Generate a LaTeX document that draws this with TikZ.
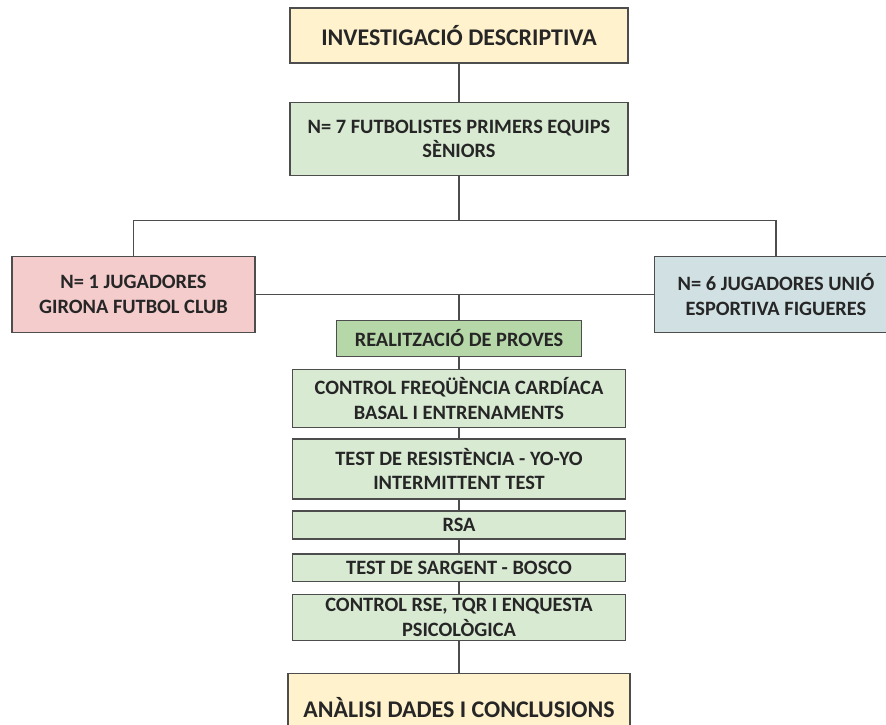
\documentclass[tikz,border=0pt]{standalone}
\usepackage{fontspec}
\setmainfont{Carlito}
\usetikzlibrary{positioning}

\definecolor{crema}{HTML}{FFF2CC}
\definecolor{verdclar}{HTML}{D9EAD3}
\definecolor{verdfosc}{HTML}{B6D7A8}
\definecolor{rosa}{HTML}{F4CCCC}
\definecolor{blaugris}{HTML}{D0E0E3}
\definecolor{vora}{HTML}{4D4D4D}
\definecolor{lletra}{HTML}{262626}

\begin{document}
\begin{tikzpicture}[
        box/.style={draw=vora, line width=0.9pt, inner sep=0pt, align=center, text=lletra,
          font=\bfseries\fontsize{14.5}{17.5}\selectfont},
        wide/.style={box, minimum width=8.325cm},
        title/.style={font=\bfseries\fontsize{17}{20}\selectfont},
        link/.style={draw=vora, line width=0.9pt}
      ]
      \path[use as bounding box, clip] (0,0) rectangle (22.15,-18.1);
      \node[box, title, fill=crema, minimum width=8.45cm, minimum height=1.375cm] (desc) at (11.475,-0.8875) {INVESTIGACIÓ DESCRIPTIVA};
      \node[box, fill=verdclar, minimum width=8.45cm, minimum height=1.825cm, below=0.95cm of desc] (mostra) {N= 7 FUTBOLISTES PRIMERS EQUIPS\\SÈNIORS};
      \node[box, fill=rosa, minimum width=6.075cm, minimum height=1.9cm] (girona) at (3.3375,-7.3625) {N= 1 JUGADORES\\GIRONA FUTBOL CLUB};
      \node[box, fill=blaugris, minimum width=6.075cm, minimum height=1.9cm] (figueres) at (19.4,-7.3625) {N= 6 JUGADORES UNIÓ\\ESPORTIVA FIGUERES};
      \node[box, fill=verdfosc, minimum width=6.125cm, minimum height=0.9cm] (proves) at (11.475,-8.4625) {REALITZACIÓ DE PROVES};
      \node[wide, fill=verdclar, minimum height=1.45cm, below=0.3cm of proves] (fc) {CONTROL FREQÜÈNCIA CARDÍACA\\BASAL I ENTRENAMENTS};
      \node[wide, fill=verdclar, minimum height=1.5cm, below=0.25cm of fc] (yoyo) {TEST DE RESISTÈNCIA - YO-YO\\INTERMITTENT TEST};
      \node[wide, fill=verdclar, minimum height=0.7cm, below=0.27cm of yoyo] (rsa) {RSA};
      \node[wide, fill=verdclar, minimum height=0.68cm, below=0.34cm of rsa] (sargent) {TEST DE SARGENT - BOSCO};
      \node[wide, fill=verdclar, minimum height=1.15cm, below=0.3cm of sargent] (rse) {CONTROL RSE, TQR I ENQUESTA\\PSICOLÒGICA};
      \node[box, title, fill=crema, minimum width=8.55cm, minimum height=1.7cm, below=0.8cm of rse] (analisi) {ANÀLISI DADES I CONCLUSIONS};

      % branques
      \coordinate[below=1.1125cm of mostra] (split);
      \draw[link] (desc) -- (mostra);
      \draw[link] (mostra) -- (split);
      \draw[link] (girona.north) |- (split) -| (figueres.north);
      \draw[link] (girona) -- (figueres);
      \draw[link] (proves.north) -- (proves.north |- girona.east);
      \foreach \a/\b in {proves/fc, fc/yoyo, yoyo/rsa, rsa/sargent, sargent/rse, rse/analisi}
        \draw[link] (\a) -- (\b);
    \end{tikzpicture}
\end{document}
